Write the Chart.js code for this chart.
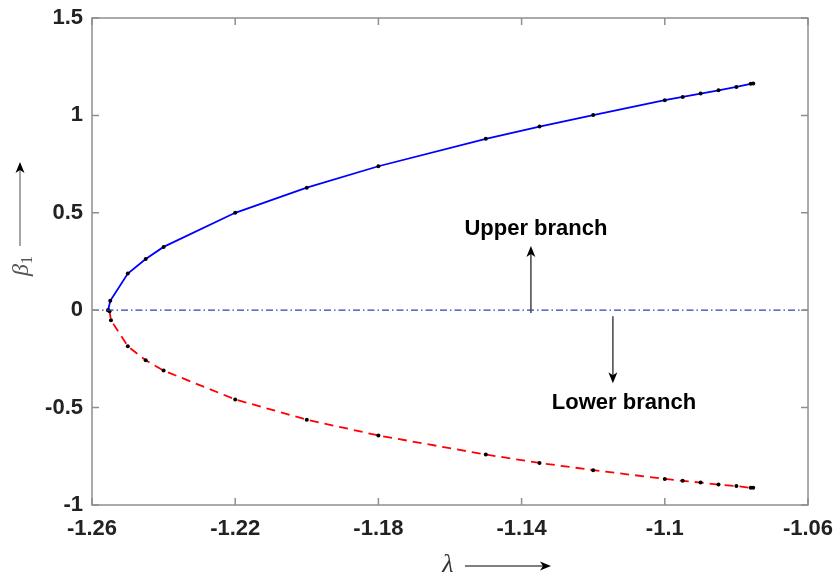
<!DOCTYPE html>
<html>
<head>
<meta charset="utf-8">
<script src="https://cdn.jsdelivr.net/npm/chart.js@4.4.1/dist/chart.umd.min.js"></script>
<style>
  body { margin: 0; background: #fff; }
  canvas { display: block; }
</style>
</head>
<body>
<canvas id="myChart" width="835" height="573"></canvas>
<script>
// upper branch (solid blue)
const upperLambda = [-1.2555, -1.2549, -1.25, -1.245, -1.24, -1.22, -1.20, -1.18, -1.15, -1.135, -1.12, -1.10, -1.095, -1.09, -1.085, -1.08, -1.076, -1.0753];
const upperBeta = [0, 0.048, 0.188, 0.263, 0.325, 0.50, 0.629, 0.739, 0.880, 0.943, 1.002, 1.078, 1.095, 1.112, 1.129, 1.146, 1.162, 1.164];

// lower branch (dashed red)
const lowerLambda = [-1.2555, -1.2551, -1.2547, -1.25, -1.245, -1.24, -1.22, -1.20, -1.18, -1.15, -1.135, -1.12, -1.10, -1.095, -1.09, -1.085, -1.08, -1.076, -1.0753];
const lowerBeta = [0, -0.005, -0.051, -0.185, -0.257, -0.310, -0.458, -0.562, -0.643, -0.741, -0.784, -0.821, -0.866, -0.876, -0.885, -0.895, -0.903, -0.912, -0.912];

// zero reference line
const zeroLambda = [-1.26, -1.06];
const zeroBeta = [0, 0];

const xTicks = [-1.26, -1.22, -1.18, -1.14, -1.1, -1.06];
const yTicks = [-1, -0.5, 0, 0.5, 1, 1.5];

function pairs(xs, ys) {
    return xs.map(function (v, i) { return { x: v, y: ys[i] }; });
}

function fmt(v) {
    return String(Number(v.toFixed(2)));
}

function arrow(ctx, x1, y1, x2, y2, lineColor) {
    const ang = Math.atan2(y2 - y1, x2 - x1);
    const len = 11, half = 4.5, back = 8;
    ctx.strokeStyle = lineColor;
    ctx.lineWidth = 1.5;
    ctx.beginPath();
    ctx.moveTo(x1, y1);
    ctx.lineTo(x2 - Math.cos(ang) * back, y2 - Math.sin(ang) * back);
    ctx.stroke();
    ctx.fillStyle = '#000';
    ctx.beginPath();
    ctx.moveTo(x2, y2);
    ctx.lineTo(x2 - Math.cos(ang) * len - Math.sin(ang) * half, y2 - Math.sin(ang) * len + Math.cos(ang) * half);
    ctx.lineTo(x2 - Math.cos(ang) * back, y2 - Math.sin(ang) * back);
    ctx.lineTo(x2 - Math.cos(ang) * len + Math.sin(ang) * half, y2 - Math.sin(ang) * len - Math.cos(ang) * half);
    ctx.closePath();
    ctx.fill();
}

const decorations = {
    id: 'decorations',
    afterDraw: function (chart) {
        const ctx = chart.ctx;
        const a = chart.chartArea;
        const x = chart.scales.x;
        const y = chart.scales.y;
        ctx.save();

        // box + inward ticks
        ctx.strokeStyle = '#8f8f8f';
        ctx.lineWidth = 1.5;
        ctx.strokeRect(a.left, a.top, a.right - a.left, a.bottom - a.top);
        ctx.beginPath();
        xTicks.forEach(function (v) {
            const px = x.getPixelForValue(v);
            ctx.moveTo(px, a.bottom); ctx.lineTo(px, a.bottom - 7);
            ctx.moveTo(px, a.top); ctx.lineTo(px, a.top + 7);
        });
        yTicks.forEach(function (v) {
            const py = y.getPixelForValue(v);
            ctx.moveTo(a.left, py); ctx.lineTo(a.left + 7, py);
            ctx.moveTo(a.right, py); ctx.lineTo(a.right - 7, py);
        });
        ctx.stroke();

        // branch annotations
        ctx.fillStyle = '#000';
        ctx.font = 'bold 22px "Liberation Sans", Arial, sans-serif';
        ctx.textAlign = 'center';
        ctx.textBaseline = 'middle';
        ctx.fillText('Upper branch', x.getPixelForValue(-1.136), y.getPixelForValue(0.416));
        ctx.fillText('Lower branch', x.getPixelForValue(-1.1114), y.getPixelForValue(-0.477));
        arrow(ctx, x.getPixelForValue(-1.1374), y.getPixelForValue(-0.015),
              x.getPixelForValue(-1.1374), y.getPixelForValue(0.33), '#444');
        arrow(ctx, x.getPixelForValue(-1.1145), y.getPixelForValue(-0.031),
              x.getPixelForValue(-1.1145), y.getPixelForValue(-0.375), '#444');

        // y axis label: beta_1 with arrow
        ctx.save();
        ctx.translate(28, 276);
        ctx.rotate(-Math.PI / 2);
        ctx.textAlign = 'left';
        ctx.textBaseline = 'alphabetic';
        ctx.fillStyle = '#555';
        ctx.font = 'italic 24px "Liberation Serif", "DejaVu Serif", serif';
        ctx.fillText('\u03b2', 0, 0);
        const bw = ctx.measureText('\u03b2').width;
        ctx.font = '16px "Liberation Serif", "DejaVu Serif", serif';
        ctx.fillText('1', bw, 4);
        ctx.restore();
        arrow(ctx, 20, 246, 20, 162, '#888');

        // x axis label: lambda with arrow
        ctx.fillStyle = '#333';
        ctx.font = 'italic 26px "Liberation Serif", "DejaVu Serif", serif';
        ctx.textAlign = 'center';
        ctx.textBaseline = 'alphabetic';
        ctx.fillText('\u03bb', 448, 572);
        arrow(ctx, 465, 566, 551, 566, '#555');

        ctx.restore();
    }
};

new Chart(document.getElementById('myChart').getContext('2d'), {
    type: 'scatter',
    data: {
        datasets: [{
            data: pairs(zeroLambda, zeroBeta),
            showLine: true,
            borderColor: '#2b3fc4',
            borderWidth: 1.2,
            borderDash: [7, 3, 1.5, 3],
            pointRadius: 0
        }, {
            data: pairs(lowerLambda, lowerBeta),
            showLine: true,
            borderColor: '#ff0000',
            borderWidth: 1.8,
            borderDash: [9, 6],
            pointRadius: 2,
            pointBackgroundColor: '#000',
            pointBorderWidth: 0
        }, {
            data: pairs(upperLambda, upperBeta),
            showLine: true,
            borderColor: '#0000ff',
            borderWidth: 1.8,
            pointRadius: 2,
            pointBackgroundColor: '#000',
            pointBorderWidth: 0
        }]
    },
    options: {
        responsive: false,
        animation: false,
        layout: { padding: { top: 18, right: 27, left: 0, bottom: 0 } },
        plugins: {
            legend: { display: false },
            tooltip: { enabled: false }
        },
        scales: {
            x: {
                type: 'linear',
                min: -1.26,
                max: -1.06,
                afterBuildTicks: function (scale) {
                    scale.ticks = xTicks.map(function (v) { return { value: v }; });
                },
                afterFit: function (scale) {
                    scale.height = 68;
                    scale.paddingLeft = 0;
                    scale.paddingRight = 0;
                },
                grid: { display: false, drawTicks: false },
                border: { display: false },
                ticks: {
                    autoSkip: false,
                    maxRotation: 0,
                    padding: 11,
                    color: '#222',
                    font: { family: '"Liberation Sans", Arial, sans-serif', size: 22, weight: 'bold' },
                    callback: function (v) { return fmt(v); }
                }
            },
            y: {
                type: 'linear',
                min: -1,
                max: 1.5,
                afterBuildTicks: function (scale) {
                    scale.ticks = yTicks.map(function (v) { return { value: v }; });
                },
                afterFit: function (scale) {
                    scale.width = 92;
                    scale.paddingTop = 0;
                    scale.paddingBottom = 0;
                },
                grid: { display: false, drawTicks: false },
                border: { display: false },
                ticks: {
                    autoSkip: false,
                    padding: 9,
                    color: '#222',
                    font: { family: '"Liberation Sans", Arial, sans-serif', size: 22, weight: 'bold' },
                    callback: function (v) { return fmt(v); }
                }
            }
        }
    },
    plugins: [decorations]
});
</script>
</body>
</html>
